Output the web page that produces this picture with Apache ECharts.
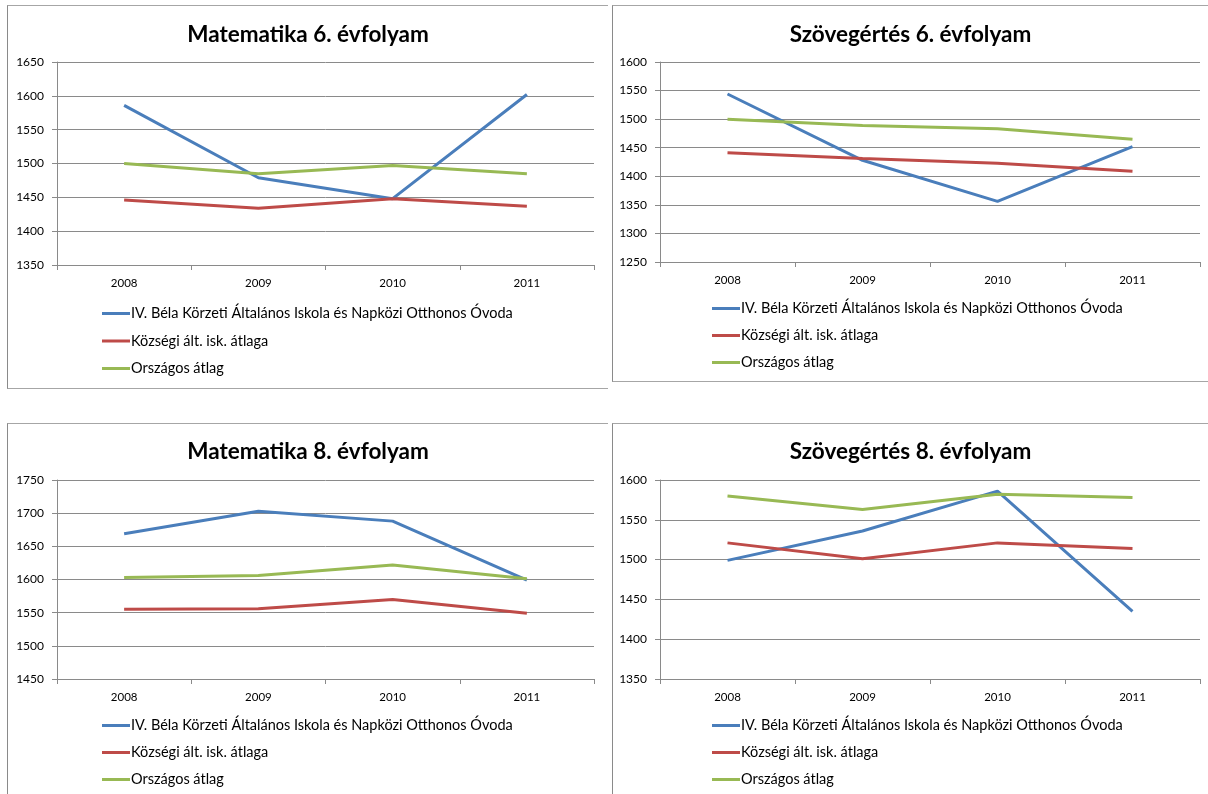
<!DOCTYPE html>
<html>
<head>
<meta charset="utf-8">
<title>Kompetenciamérés eredményei</title>
<script src="https://cdn.jsdelivr.net/npm/echarts@6/dist/echarts.min.js"></script>
<style>
  html, body { margin: 0; padding: 0; background: #ffffff; }
  body { width: 1208px; height: 794px; position: relative; overflow: hidden; }
  .panel { position: absolute; box-sizing: border-box; background: #fff; }
  .left  { border-left: 1px solid #8a8a8a; border-top: 1px solid #a6a6a6; }
  .bottom { border-bottom: 1px solid #a6a6a6; }
</style>
</head>
<body>
<div id="p1" class="panel left bottom" style="left:7px; top:5px; width:601px; height:384px;"></div>
<div id="p2" class="panel left bottom" style="left:612px; top:5px; width:596px; height:377px;"></div>
<div id="p3" class="panel left" style="left:7px; top:423px; width:601px; height:371px;"></div>
<div id="p4" class="panel left" style="left:612px; top:423px; width:596px; height:371px;"></div>
<script>
// Years on the category axis
const years = ['2008', '2009', '2010', '2011'];

// Series names (legend)
const seriesNames = [
  'IV. Béla Körzeti Általános Iskola és Napközi Otthonos Óvoda',
  'Községi ált. isk. átlaga',
  'Országos átlag'
];

// Matematika 6. évfolyam
const mat6School   = [1586, 1479, 1448, 1602];
const mat6Village  = [1446, 1434, 1448, 1437];
const mat6National = [1500, 1485, 1497, 1485];

// Szövegértés 6. évfolyam
const szov6School   = [1544, 1428, 1356, 1452];
const szov6Village  = [1441, 1431, 1423, 1409];
const szov6National = [1500, 1489, 1483, 1465];

// Matematika 8. évfolyam
const mat8School   = [1669, 1703, 1688, 1599];
const mat8Village  = [1555, 1556, 1570, 1549];
const mat8National = [1603, 1606, 1622, 1601];

// Szövegértés 8. évfolyam
const szov8School   = [1499, 1536, 1586, 1435];
const szov8Village  = [1521, 1501, 1521, 1514];
const szov8National = [1580, 1563, 1582, 1578];

// Value-axis ranges: [min, max, step]
const mat6Range  = [1350, 1650, 50];
const szov6Range = [1250, 1600, 50];
const mat8Range  = [1450, 1750, 50];
const szov8Range = [1350, 1600, 50];

const colors = ['#4a7ebb', '#be4b48', '#98b954'];
const FONT = 'Lato, "Open Sans", sans-serif';

function buildOption(title, range, data, layout) {
  return {
    animation: false,
    color: colors,
    title: {
      text: title,
      left: 'center',
      top: layout.titleTop,
      padding: 0,
      textStyle: { fontFamily: FONT, fontWeight: 'bold', fontSize: 22.5, color: '#000' }
    },
    grid: { left: layout.gridLeft, top: 56, width: layout.gridWidth, height: layout.gridHeight, containLabel: false },
    legend: {
      orient: 'vertical',
      left: layout.legendLeft,
      top: layout.legendTop,
      padding: 0,
      itemGap: layout.legendGap,
      itemWidth: 28,
      itemHeight: 3,
      icon: 'rect',
      textStyle: { fontFamily: FONT, fontSize: 14.5, color: '#000', lineHeight: 14, padding: [0, 0, 0, -4] },
      data: seriesNames
    },
    xAxis: {
      type: 'category',
      data: years,
      boundaryGap: true,
      axisLine: { lineStyle: { color: '#8a8a8a', width: 1 } },
      axisTick: { show: true, length: 5, alignWithLabel: false, lineStyle: { color: '#8a8a8a' } },
      axisLabel: { fontFamily: FONT, fontSize: 11.5, color: '#000', margin: 12 },
      splitLine: { show: false }
    },
    yAxis: {
      type: 'value',
      min: range[0],
      max: range[1],
      interval: range[2],
      axisLine: { show: true, lineStyle: { color: '#8a8a8a', width: 1 } },
      axisTick: { show: true, length: 5, lineStyle: { color: '#8a8a8a' } },
      axisLabel: {
        fontFamily: FONT, fontSize: 12, color: '#000', margin: 13,
        formatter: v => String(v)
      },
      splitLine: { show: true, lineStyle: { color: '#8a8a8a', width: 1 } }
    },
    series: data.map((vals, i) => ({
      name: seriesNames[i],
      type: 'line',
      data: vals,
      symbol: 'none',
      smooth: false,
      lineStyle: { width: 3, color: colors[i] },
      itemStyle: { color: colors[i] }
    }))
  };
}

const leftLayout  = { gridLeft: 49, gridWidth: 537, legendLeft: 94 };
const rightLayout = { gridLeft: 47, gridWidth: 540, legendLeft: 99 };

const panels = [
  ['p1', 'Matematika 6. évfolyam', mat6Range, [mat6School, mat6Village, mat6National],
    Object.assign({}, leftLayout, { gridHeight: 203, titleTop: 17, legendTop: 300, legendGap: 12.5 })],
  ['p2', 'Szövegértés 6. évfolyam', szov6Range, [szov6School, szov6Village, szov6National],
    Object.assign({}, rightLayout, { gridHeight: 200, titleTop: 17, legendTop: 295, legendGap: 12 })],
  ['p3', 'Matematika 8. évfolyam', mat8Range, [mat8School, mat8Village, mat8National],
    Object.assign({}, leftLayout, { gridHeight: 199, titleTop: 16, legendTop: 294, legendGap: 12 })],
  ['p4', 'Szövegértés 8. évfolyam', szov8Range, [szov8School, szov8Village, szov8National],
    Object.assign({}, rightLayout, { gridHeight: 199, titleTop: 16, legendTop: 294, legendGap: 12 })]
];

panels.forEach(p => {
  const chart = echarts.init(document.getElementById(p[0]), null, { renderer: 'canvas' });
  chart.setOption(buildOption(p[1], p[2], p[3], p[4]));
});
</script>
</body>
</html>
